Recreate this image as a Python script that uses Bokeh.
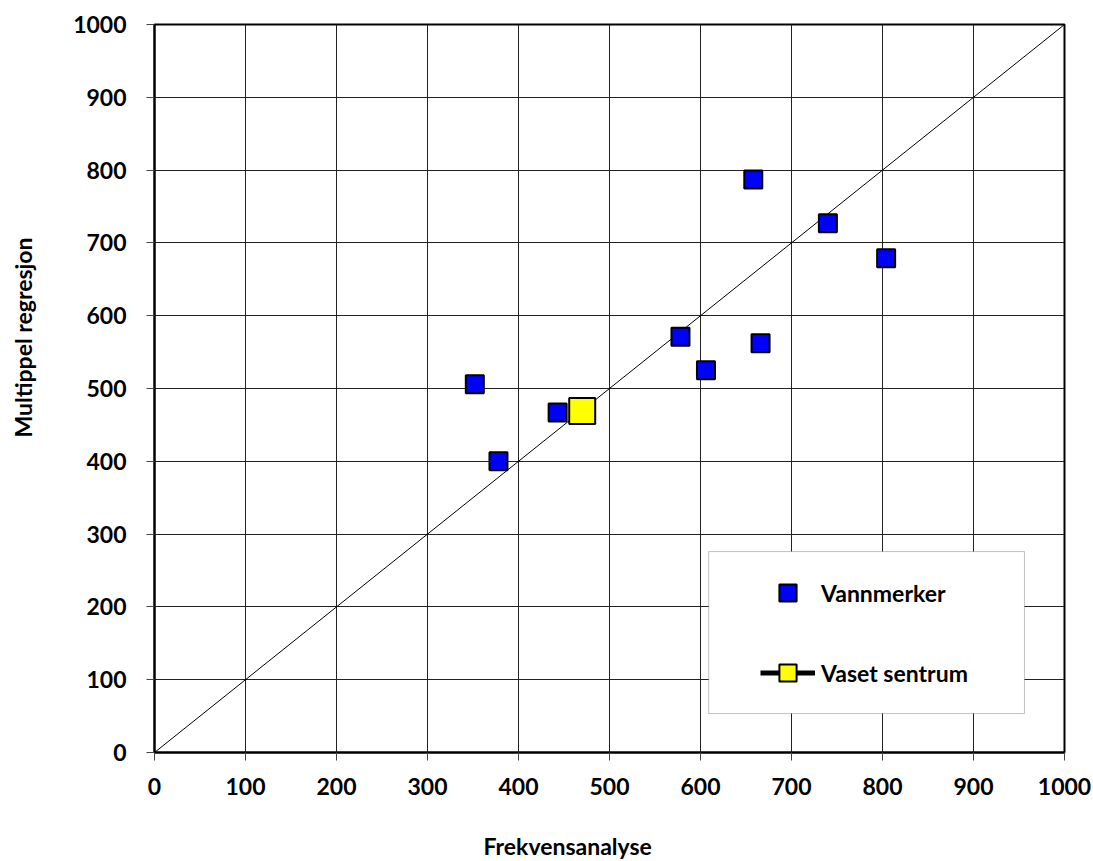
from bokeh.plotting import figure
from bokeh.models import (Range1d, FixedTicker, Legend, LegendItem, Title,
                          BoxAnnotation)
from bokeh.embed import file_html
from bokeh.resources import INLINE

# ---- data ----
vann_x = [352, 378, 443, 578, 606, 658, 666, 740, 804]
vann_y = [506, 400, 467, 571, 525, 787, 562, 727, 679]
vaset_x = [470]
vaset_y = [469]
diag_x = [0, 1000]
diag_y = [0, 1000]
tick_values = [0, 100, 200, 300, 400, 500, 600, 700, 800, 900, 1000]
x_title = "Frekvensanalyse"
y_title = "Multippel regresjon"
legend_labels = ["Vannmerker", "Vaset sentrum"]

FONT = "Lato"
FS = "23px"

p = figure(width=1093, height=861, output_backend="svg", toolbar_location=None,
           x_range=Range1d(0, 1000), y_range=Range1d(0, 1000),
           min_border_left=154, min_border_right=29, min_border_top=24,
           min_border_bottom=109)
p.background_fill_color = "white"
p.border_fill_color = "white"
p.outline_line_color = "black"
p.outline_line_width = 2

for ax in (p.xaxis[0], p.yaxis[0]):
    ax.ticker = FixedTicker(ticks=tick_values)
    ax.axis_line_color = "black"
    ax.axis_line_width = 2
    ax.major_tick_in = 0
    ax.major_tick_out = 8
    ax.major_tick_line_color = "#444444"
    ax.minor_tick_line_color = None
    ax.major_label_text_font = FONT
    ax.major_label_text_font_size = FS
    ax.major_label_text_font_style = "bold"
    ax.major_label_text_color = "black"
    # blank axis label used only as spacing before the titles
    ax.axis_label = " "
    ax.axis_label_text_font_size = FS
p.xaxis.major_label_standoff = 17
p.yaxis.major_label_standoff = 20
p.xaxis.axis_label_standoff = 3
p.yaxis.axis_label_standoff = 5

for g in (p.xgrid[0], p.ygrid[0]):
    g.ticker = FixedTicker(ticks=tick_values)
    g.grid_line_color = "#222222"
    g.grid_line_width = 1

# diagonal 1:1 line
p.line(diag_x, diag_y, line_color="black", line_width=1)

vann = p.scatter(vann_x, vann_y, marker="square", size=18, fill_color="#0000FF",
                 line_color="black", line_width=2)
vaset_line = p.line(vaset_x, vaset_y, line_color="black", line_width=5)
vaset = p.scatter(vaset_x, vaset_y, marker="square", size=26, fill_color="#FFFF00",
                  line_color="black", line_width=2)

# legend frame
box = BoxAnnotation(left=609, right=956, bottom=53.5, top=276,
                    fill_color="white", fill_alpha=1.0,
                    line_color="#333333", line_width=1)
p.add_layout(box)

legend = Legend(items=[LegendItem(label=legend_labels[0], renderers=[vann]),
                       LegendItem(label=legend_labels[1], renderers=[vaset_line, vaset])],
                location=(586, 38), padding=20, spacing=37,
                glyph_width=55, glyph_height=43, label_standoff=6,
                label_text_font=FONT, label_text_font_size=FS,
                label_text_font_style="bold", label_text_color="black",
                border_line_alpha=0, background_fill_alpha=0)
p.add_layout(legend, "center")

tx = Title(text=x_title, align="left", offset=329, text_font=FONT,
           text_font_size=FS, text_font_style="bold", text_color="black",
           standoff=0)
p.add_layout(tx, "below")
ty = Title(text=y_title, align="left", offset=315, text_font=FONT,
           text_font_size=FS, text_font_style="bold", text_color="black",
           standoff=0)
p.add_layout(ty, "left")

open("out.html", "w").write(file_html(p, INLINE))
